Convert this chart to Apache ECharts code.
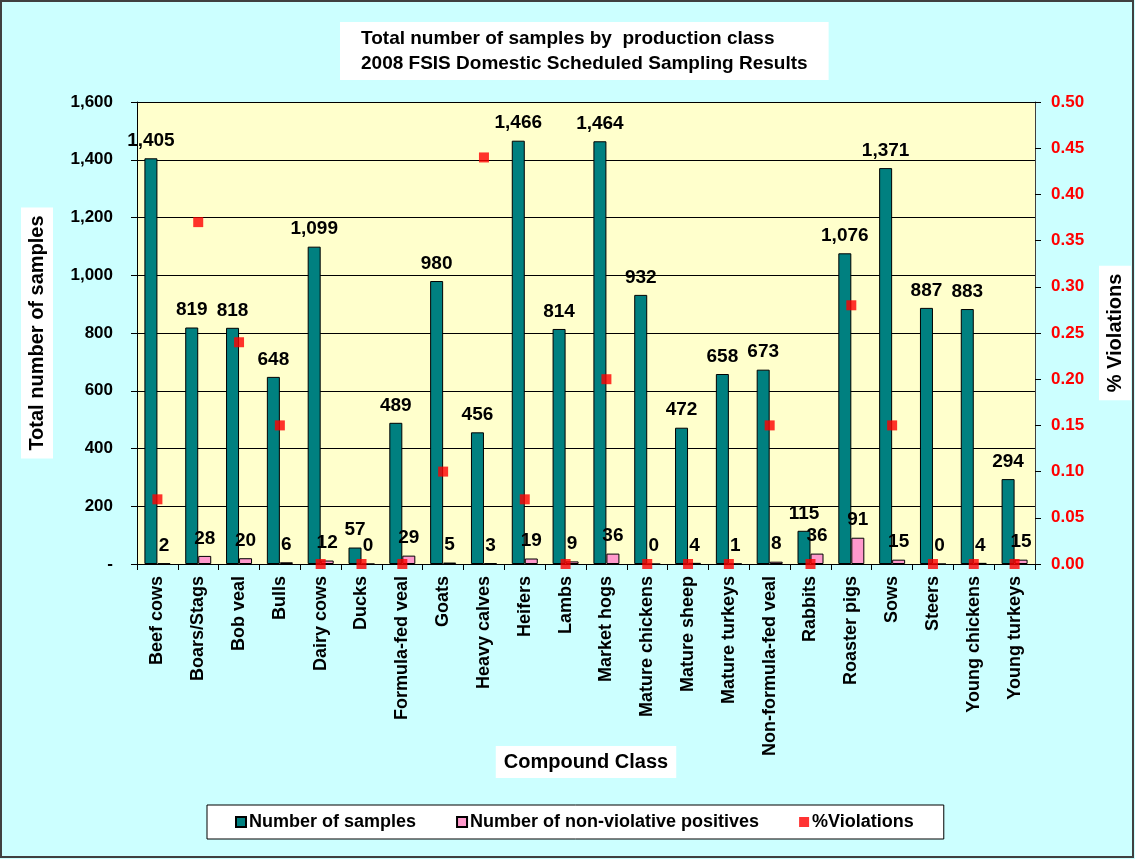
<!DOCTYPE html>
<html>
<head>
<meta charset="utf-8">
<script src="https://cdn.jsdelivr.net/npm/echarts@6/dist/echarts.min.js"></script>
<style>
  html, body { margin: 0; padding: 0; background: #ccffff; }
  #chart { width: 1135px; height: 859px; }
</style>
</head>
<body>
<div id="chart"></div>
<script>
// production classes
var classes = ['Beef cows', 'Boars/Stags', 'Bob veal', 'Bulls', 'Dairy cows', 'Ducks',
  'Formula-fed veal', 'Goats', 'Heavy calves', 'Heifers', 'Lambs', 'Market hogs',
  'Mature chickens', 'Mature sheep', 'Mature turkeys', 'Non-formula-fed veal', 'Rabbits',
  'Roaster pigs', 'Sows', 'Steers', 'Young chickens', 'Young turkeys']
// number of samples
var samples = [1405, 819, 818, 648, 1099, 57, 489, 980, 456, 1466, 814, 1464,
  932, 472, 658, 673, 115, 1076, 1371, 887, 883, 294]
// non-violative positives
var positives = [2, 28, 20, 6, 12, 0, 29, 5, 3, 19, 9, 36, 0, 4, 1, 8, 36, 91, 15, 0, 4, 15]
// % violations
var violations = [0.07, 0.37, 0.24, 0.15, 0, 0, 0, 0.10, 0.44, 0.07, 0, 0.20,
  0, 0, 0, 0.15, 0, 0.28, 0.15, 0, 0, 0]

var FONT = '"Liberation Sans", Arial, sans-serif'

function fmt(v) {
  return v.toString().replace(/\B(?=(\d{3})+(?!\d))/g, ',')
}

var chart = echarts.init(document.getElementById('chart'))

var option = {
  backgroundColor: '#ccffff',
  animation: false,
  textStyle: { fontFamily: FONT },
  title: {
    text: 'Total number of samples by  production class\n2008 FSIS Domestic Scheduled Sampling Results',
    left: 340,
    top: 22,
    backgroundColor: '#ffffff',
    padding: [4, 21, 4, 21],
    textStyle: {
      fontFamily: FONT,
      fontSize: 19,
      fontWeight: 'bold',
      color: '#000',
      lineHeight: 25,
      align: 'center'
    }
  },
  legend: {
    left: 207,
    top: 805,
    padding: [8, 30, 8, 28],
    itemGap: 40,
    itemWidth: 10,
    itemHeight: 10,
    borderColor: '#000',
    borderWidth: 1,
    backgroundColor: '#ffffff',
    textStyle: { fontFamily: FONT, fontSize: 18, fontWeight: 'bold', color: '#000', padding: [0, 0, 0, -2] },
    data: [
      { name: 'Number of samples', icon: 'rect' },
      { name: 'Number of non-violative positives', icon: 'rect' },
      { name: '%Violations', icon: 'rect' }
    ]
  },
  grid: {
    left: 137,
    right: 100,
    top: 102,
    bottom: 295,
    show: true,
    backgroundColor: '#ffffcc',
    borderWidth: 0,
    containLabel: false,
    outerBoundsMode: 'none'
  },
  xAxis: {
    type: 'category',
    data: classes,
    name: 'Compound Class',
    nameLocation: 'middle',
    nameGap: 182,
    nameMoveOverlap: false,
    nameTextStyle: {
      fontFamily: FONT, fontSize: 20, fontWeight: 'bold', color: '#000',
      backgroundColor: '#fff', padding: [6, 8, 6, 8]
    },
    axisLine: { lineStyle: { color: '#000', width: 1 } },
    axisTick: { show: true, interval: 0, length: 6, lineStyle: { color: '#000' } },
    axisLabel: {
      interval: 0,
      rotate: 90,
      margin: 12,
      fontFamily: FONT,
      fontSize: 18,
      fontWeight: 'bold',
      color: '#000'
    }
  },
  yAxis: [{
    type: 'value',
    min: 0,
    max: 1600,
    interval: 200,
    name: 'Total number of samples',
    nameLocation: 'middle',
    nameRotate: 90,
    nameGap: 84,
    nameMoveOverlap: false,
    nameTextStyle: {
      fontFamily: FONT, fontSize: 20, fontWeight: 'bold', color: '#000',
      backgroundColor: '#fff', padding: [6, 8, 6, 8]
    },
    axisLine: { show: true, lineStyle: { color: '#000' } },
    axisTick: { show: true, length: 6, lineStyle: { color: '#000' } },
    splitLine: { show: true, lineStyle: { color: '#000', width: 1 } },
    axisLabel: {
      margin: 24,
      fontFamily: FONT,
      fontSize: 17,
      fontWeight: 'bold',
      color: '#000',
      formatter: function (v) { return v === 0 ? '-' : fmt(v) }
    }
  }, {
    type: 'value',
    min: 0,
    max: 0.5,
    interval: 0.05,
    position: 'right',
    name: '% Violations',
    nameLocation: 'middle',
    nameRotate: 90,
    nameGap: 64,
    nameMoveOverlap: false,
    nameTextStyle: {
      fontFamily: FONT, fontSize: 20, fontWeight: 'bold', color: '#000',
      backgroundColor: '#fff', padding: [6, 8, 6, 8]
    },
    axisLine: { show: true, lineStyle: { color: '#404040' } },
    axisTick: { show: true, length: 6, lineStyle: { color: '#000' } },
    splitLine: { show: false },
    axisLabel: {
      margin: 16,
      fontFamily: FONT,
      fontSize: 17,
      fontWeight: 'bold',
      color: '#ff0000',
      formatter: function (v) { return v.toFixed(2) }
    }
  }],
  graphic: [{
    type: 'rect',
    shape: { x: 1, y: 1, width: 1132, height: 856 },
    style: { fill: 'none', stroke: '#404040', lineWidth: 2 },
    silent: true
  }],
  series: [{
    name: 'Number of samples',
    type: 'bar',
    data: samples,
    barWidth: 13,
    barGap: '0%',
    itemStyle: { color: '#008080', borderColor: '#000', borderWidth: 1 },
    label: {
      show: true,
      position: 'top',
      distance: 8,
      fontFamily: FONT,
      fontSize: 19,
      fontWeight: 'bold',
      color: '#000',
      formatter: function (p) { return fmt(p.value) }
    }
  }, {
    name: 'Number of non-violative positives',
    type: 'bar',
    data: positives,
    barWidth: 13,
    barGap: '0%',
    itemStyle: { color: '#ff99cc', borderColor: '#000', borderWidth: 1 },
    label: {
      show: true,
      position: 'top',
      distance: 8,
      fontFamily: FONT,
      fontSize: 19,
      fontWeight: 'bold',
      color: '#000'
    }
  }, {
    name: '%Violations',
    type: 'scatter',
    yAxisIndex: 1,
    data: violations,
    symbol: 'rect',
    symbolSize: 10,
    itemStyle: { color: '#ff0000' },
    z: 5
  }]
}

chart.setOption(option)
</script>
</body>
</html>
